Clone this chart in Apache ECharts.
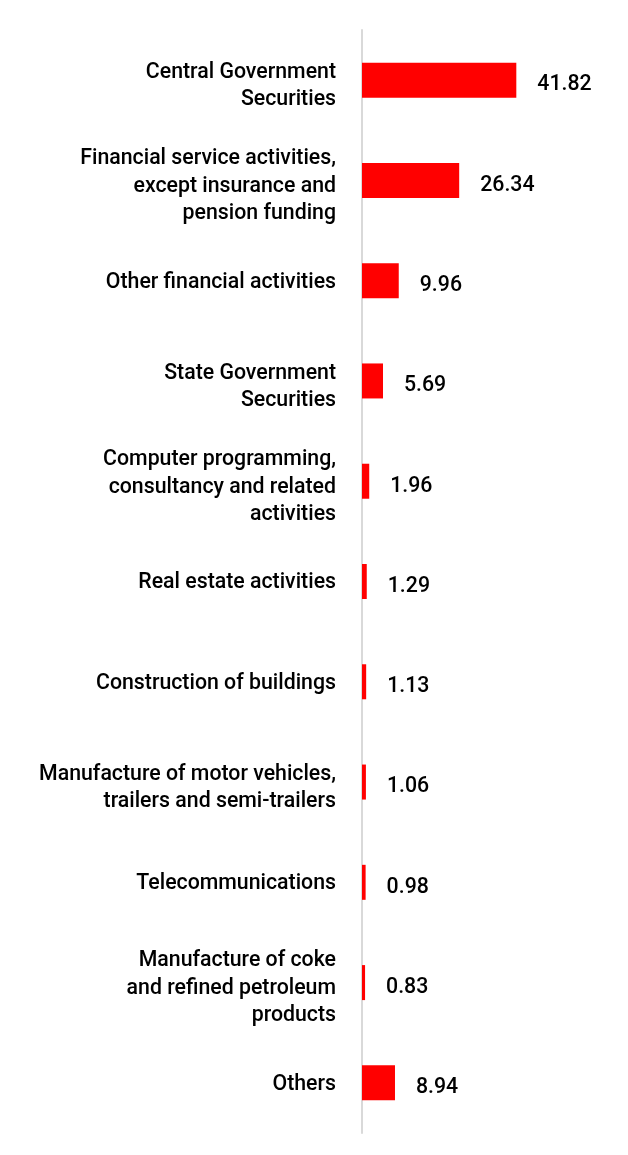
<!DOCTYPE html>
<html>
<head>
<meta charset="utf-8">
<script src="https://cdn.jsdelivr.net/npm/echarts@6/dist/echarts.min.js"></script>
<style>
html,body{margin:0;padding:0;background:#fff;}
#chart{width:628px;height:1155px;}
</style>
</head>
<body>
<div id="chart"></div>
<script>
const categories = [
  "Central Government\nSecurities",
  "Financial service activities,\nexcept insurance and\npension funding",
  "Other financial activities",
  "State Government\nSecurities",
  "Computer programming,\nconsultancy and related\nactivities",
  "Real estate activities",
  "Construction of buildings",
  "Manufacture of motor vehicles,\ntrailers and semi-trailers",
  "Telecommunications",
  "Manufacture of coke\nand refined petroleum\nproducts",
  "Others"
];
const values = [41.82, 26.34, 9.96, 5.69, 1.96, 1.29, 1.13, 1.06, 0.98, 0.83, 8.94];

const chart = echarts.init(document.getElementById('chart'));
chart.setOption({
  animation: false,
  grid: { left: 362, right: 81.5, top: 30, bottom: 22, containLabel: false },
  xAxis: {
    type: 'value', min: 0, max: 50,
    show: false
  },
  yAxis: {
    type: 'category',
    inverse: true,
    data: categories,
    axisLine: { show: true, lineStyle: { color: '#d9d9d9', width: 2 } },
    axisTick: { show: false },
    axisLabel: {
      margin: 26,
      color: '#000',
      fontFamily: 'Roboto',
      fontWeight: 500,
      fontSize: 21.3,
      lineHeight: 27.5,
      align: 'right',
      formatter: v => (v.indexOf('\n') >= 0 ? '{s| }\n' : '{t| }\n') + v,
      rich: { s: { fontSize: 1, lineHeight: 12 }, t: { fontSize: 1, lineHeight: 3 } }
    }
  },
  series: [{
    type: 'bar',
    data: values,
    barWidth: 35,
    itemStyle: { color: '#ff0000' },
    label: {
      show: true,
      position: 'right',
      distance: 21,
      color: '#000',
      fontFamily: 'Roboto',
      fontWeight: 500,
      fontSize: 21.3,
      offset: [0, 5],
      formatter: p => p.value.toFixed(2)
    }
  }]
});
</script>
</body>
</html>
